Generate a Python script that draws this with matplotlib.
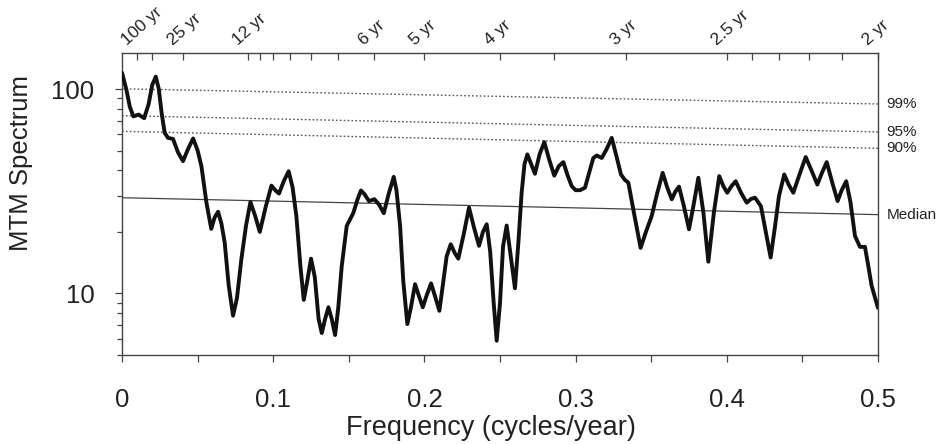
import numpy as np
import matplotlib
matplotlib.use("Agg")
import matplotlib.pyplot as plt
from matplotlib.ticker import LogLocator, NullFormatter

plt.rcParams["font.family"] = ["Liberation Sans", "DejaVu Sans"]

# MTM spectrum (frequency in cycles/year)
freq = [0.0, 0.0029, 0.0051, 0.0075, 0.011, 0.0146, 0.0175, 0.02, 0.0223, 0.0243,
        0.0262, 0.0282, 0.0304, 0.0337, 0.037, 0.0403, 0.0437, 0.047, 0.05, 0.0525,
        0.0558, 0.059, 0.0612, 0.0635, 0.0657, 0.0679, 0.0705, 0.0734, 0.076, 0.0789,
        0.082, 0.0849, 0.088, 0.0911, 0.095, 0.0988, 0.1013, 0.1038, 0.107, 0.1102,
        0.1128, 0.1153, 0.118, 0.1202, 0.1225, 0.125, 0.1275, 0.13, 0.1321, 0.1343,
        0.1365, 0.1387, 0.1409, 0.143, 0.1453, 0.1486, 0.153, 0.1555, 0.158, 0.1605,
        0.1633, 0.1669, 0.17, 0.1731, 0.1765, 0.1797, 0.1815, 0.1839, 0.186, 0.1887,
        0.191, 0.1938, 0.1962, 0.1989, 0.2015, 0.2044, 0.207, 0.2099, 0.2122, 0.2147,
        0.2174, 0.22, 0.2224, 0.226, 0.2295, 0.2328, 0.2361, 0.2387, 0.2412, 0.2435,
        0.2458, 0.2478, 0.25, 0.252, 0.2544, 0.2572, 0.2599, 0.2622, 0.2643, 0.2662,
        0.2681, 0.2706, 0.2731, 0.2762, 0.2793, 0.2826, 0.2859, 0.2889, 0.2919, 0.2946,
        0.2974, 0.3, 0.3029, 0.3062, 0.309, 0.3117, 0.314, 0.3173, 0.3206, 0.3239,
        0.327, 0.33, 0.3325, 0.3349, 0.3385, 0.343, 0.3465, 0.3503, 0.354, 0.3576,
        0.3606, 0.3636, 0.366, 0.3684, 0.3715, 0.375, 0.378, 0.3812, 0.3845, 0.3878,
        0.3915, 0.395, 0.3977, 0.4003, 0.4031, 0.4059, 0.4095, 0.4132, 0.416, 0.4187,
        0.4226, 0.4258, 0.429, 0.4318, 0.4345, 0.438, 0.441, 0.444, 0.448, 0.4522,
        0.456, 0.4599, 0.463, 0.4661, 0.4697, 0.4733, 0.476, 0.479, 0.4818, 0.4848,
        0.4881, 0.4914, 0.4937, 0.4958, 0.5]
mtm = [120, 99, 82, 73.5, 75, 72, 84, 105, 115, 100,
       76, 61, 57.7, 57, 49, 44.4, 51, 57.3, 50, 41.9,
       27.8, 20.7, 23.5, 25.1, 22, 17.7, 11, 7.78, 9.5, 14.7,
       21.5, 28, 24, 20, 26.5, 33.7, 32, 30.8, 35.5, 39.6,
       33, 23.9, 13.5, 9.3, 11.5, 14.8, 12, 7.5, 6.4, 7.5,
       8.56, 7.5, 6.26, 8.5, 13.6, 21.4, 24.8, 28.5, 31.9, 30.5,
       28.3, 28.9, 27.2, 24.7, 31, 37.2, 32, 21.4, 11.5, 7.08,
       8.5, 11.1, 9.8, 8.56, 9.8, 11.2, 9.7, 8.22, 11, 15.2,
       17.4, 15.8, 14.8, 19.5, 26.3, 21, 17.1, 20, 21.8, 16,
       9, 5.87, 9, 17, 21.5, 15, 10.6, 18, 31.1, 43,
       47.9, 43, 38.5, 48, 55, 45, 37.7, 42, 43.9, 38,
       33.5, 32, 32, 32.9, 39, 46, 47.3, 46, 51, 57.7,
       47, 38.2, 36, 34.8, 25, 16.7, 20, 23.9, 31, 38.9,
       33, 28.9, 31.5, 33.3, 27, 20.6, 27, 36.8, 25, 14.3,
       25, 37.5, 33.5, 31.1, 33.5, 35.4, 31, 27.8, 29, 29.4,
       26.7, 20, 15, 21, 29.9, 38.2, 34, 31.1, 38, 46.5,
       40, 34.1, 39, 43.9, 35, 28.3, 32, 35.4, 28, 19.1,
       16.9, 16.9, 13.5, 10.9, 8.5]

# confidence levels and median of the background, at f = 0 and f = 0.5
level_freq = [0.0, 0.5]
level_99 = [100.3, 84.5]
level_95 = [74.1, 61.7]
level_90 = [62.1, 51.3]
level_median = [29.4, 24.3]

# period ticks on the top axis (years)
periods = [100, 50, 25, 12, 11, 10, 9, 8, 7, 6, 5, 4, 3.5, 3, 2.5, 2.4, 2.3, 2.2, 2.1, 2]
labelled_periods = [100, 25, 12, 6, 5, 4, 3, 2.5, 2]

fig = plt.figure(figsize=(9.39, 4.44), dpi=100)
ax = fig.add_axes([0.13, 0.2005, 0.805, 0.68])

dot = (0, (1.2, 1.6))
ax.plot(level_freq, level_99, color="#555555", lw=1.0, ls=dot, zorder=1)
ax.plot(level_freq, level_95, color="#555555", lw=1.0, ls=dot, zorder=1)
ax.plot(level_freq, level_90, color="#555555", lw=1.0, ls=dot, zorder=1)
ax.plot(level_freq, level_median, color="#444444", lw=0.9, zorder=1)
ax.plot(freq, mtm, color="#111111", lw=2.8, solid_joinstyle="round",
        solid_capstyle="round", zorder=3)

for name, vals in [("99%", level_99), ("95%", level_95), ("90%", level_90),
                   ("Median", level_median)]:
    ax.annotate(name, xy=(level_freq[-1], vals[-1]), xytext=(6, 0),
                textcoords="offset points", va="center", ha="left",
                fontsize=11, color="#222222", annotation_clip=False)

ax.set_yscale("log")
ax.set_ylim(5, 150)
ax.set_xlim(0, 0.5)
ax.set_yticks([10, 100])
ax.set_yticklabels(["10", "100"])
ax.yaxis.set_minor_locator(LogLocator(base=10, subs=np.arange(2, 10)))
ax.yaxis.set_minor_formatter(NullFormatter())
ax.set_xticks([0, 0.1, 0.2, 0.3, 0.4, 0.5])
ax.set_xticklabels(["0", "0.1", "0.2", "0.3", "0.4", "0.5"])
ax.set_xticks([0.05, 0.15, 0.25, 0.35, 0.45], minor=True)

ax.tick_params(axis="both", which="both", direction="out", top=False, right=False,
               color="#444444", labelcolor="#222222", width=0.9)
ax.tick_params(axis="x", which="both", length=5, pad=19, labelsize=18.5)
ax.tick_params(axis="y", which="major", length=5, pad=15, labelsize=18.5)
ax.tick_params(axis="y", which="minor", length=3.5)
for sp in ax.spines.values():
    sp.set_color("#444444")
    sp.set_linewidth(1.0)

ax.set_ylabel("MTM Spectrum", fontsize=18.5, color="#222222")
ax.yaxis.set_label_coords(-0.118, 0.636)
ax.set_xlabel("Frequency (cycles/year)", fontsize=19.5, color="#222222")
ax.xaxis.set_label_coords(0.488, -0.2)

# period axis on top
ax2 = ax.twiny()
ax2.set_xlim(0, 0.5)
ax2.set_xticks([1.0 / p for p in periods])
ax2.set_xticklabels([])
ax2.tick_params(axis="x", direction="in", length=5, width=0.9, color="#444444")
for sp in ax2.spines.values():
    sp.set_visible(False)
for p in labelled_periods:
    ax2.annotate(f"{p:g} yr", xy=(1.0 / p, 1), xycoords=("data", "axes fraction"),
                 xytext=(-7, 5), textcoords="offset points", rotation=42,
                 rotation_mode="anchor", ha="left", va="baseline",
                 fontsize=12.5, color="#222222", annotation_clip=False)

fig.savefig("out.png", dpi=100, facecolor="white")
